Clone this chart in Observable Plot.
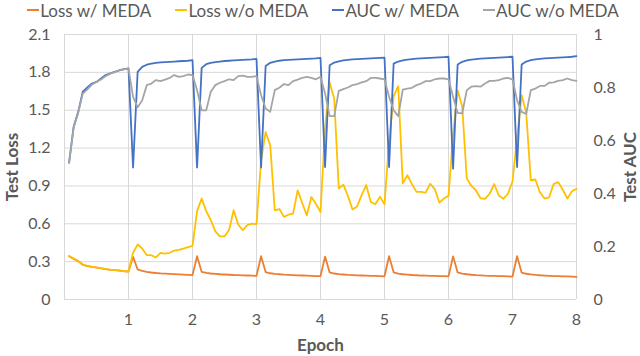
<!DOCTYPE html>
<html>
<head>
<meta charset="utf-8">
<script src="https://cdn.jsdelivr.net/npm/d3@7"></script>
<script src="https://cdn.jsdelivr.net/npm/@observablehq/plot@0.6"></script>
<style>
  html, body { margin: 0; padding: 0; background: #fff; }
  body { width: 640px; height: 356px; overflow: hidden; font-family: Lato, "Open Sans", sans-serif; }
  #legend { height: 20px; display: flex; justify-content: center; align-items: center; gap: 24px; font-size: 17px; color: #595959; padding-left: 6px; }
  #legend .item { display: flex; align-items: center; white-space: nowrap; }
  #legend .sw { display: inline-block; width: 12px; height: 2px; margin-right: 1px; }
</style>
</head>
<body>
<div id="legend"></div>
<div id="chart"></div>
<script>
// ---- data ----
const stepsPerEpoch = 14;               // evaluation points per epoch
const epochTicks = [1, 2, 3, 4, 5, 6, 7, 8];
const epochGrid = [0, 1, 2, 3, 4, 5, 6, 7, 8];
const lossTicks = [0, 0.3, 0.6, 0.9, 1.2, 1.5, 1.8, 2.1];
const aucTicks = [0, 0.2, 0.4, 0.6, 0.8, 1];
const lossMax = 2.1;
const aucMax = 1;

const seriesNames = ["Loss w/ MEDA", "Loss w/o MEDA", "AUC w/ MEDA", "AUC w/o MEDA"];
const seriesAxis = ["loss", "loss", "auc", "auc"];
const seriesColors = ["#ED7D31", "#FFC000", "#4472C4", "#A5A5A5"];

const lossWithMeda = [
  0.343, 0.322, 0.304, 0.275, 0.264, 0.259, 0.253, 0.246, 0.240, 0.235, 0.232, 0.229, 0.224, 0.222,
  0.338, 0.238, 0.227, 0.219, 0.214, 0.210, 0.207, 0.205, 0.203, 0.201, 0.199, 0.197, 0.195, 0.193,
  0.343, 0.219, 0.211, 0.206, 0.203, 0.200, 0.198, 0.196, 0.194, 0.193, 0.191, 0.190, 0.189, 0.187,
  0.343, 0.217, 0.208, 0.203, 0.200, 0.197, 0.195, 0.193, 0.191, 0.190, 0.189, 0.188, 0.186, 0.185,
  0.340, 0.214, 0.206, 0.201, 0.198, 0.195, 0.193, 0.191, 0.190, 0.189, 0.188, 0.187, 0.186, 0.184,
  0.343, 0.215, 0.205, 0.200, 0.197, 0.194, 0.192, 0.190, 0.189, 0.188, 0.187, 0.186, 0.185, 0.183,
  0.342, 0.214, 0.205, 0.200, 0.196, 0.193, 0.191, 0.189, 0.188, 0.187, 0.186, 0.185, 0.183, 0.182,
  0.343, 0.213, 0.204, 0.199, 0.195, 0.192, 0.190, 0.188, 0.186, 0.185, 0.184, 0.183, 0.181, 0.179
];
const lossWithoutMeda = [
  0.345, 0.325, 0.305, 0.277, 0.266, 0.260, 0.255, 0.248, 0.242, 0.237, 0.233, 0.230, 0.226, 0.224,
  0.370, 0.436, 0.404, 0.351, 0.351, 0.333, 0.370, 0.364, 0.370, 0.388, 0.393, 0.404, 0.415, 0.425,
  0.700, 0.800, 0.700, 0.630, 0.540, 0.500, 0.500, 0.550, 0.707, 0.594, 0.549, 0.590, 0.602, 0.597,
  1.100, 1.328, 1.223, 0.707, 0.717, 0.655, 0.672, 0.680, 0.865, 0.765, 0.667, 0.812, 0.758, 0.693,
  1.350, 1.720, 1.590, 0.880, 0.910, 0.820, 0.714, 0.737, 0.827, 0.907, 0.773, 0.755, 0.815, 0.755,
  1.250, 1.610, 1.690, 0.920, 0.985, 0.914, 0.853, 0.853, 0.847, 0.917, 0.875, 0.768, 0.800, 0.821,
  1.300, 1.656, 1.530, 0.960, 0.900, 0.866, 0.802, 0.798, 0.838, 0.915, 0.824, 0.798, 0.838, 0.935,
  1.280, 1.620, 1.480, 0.945, 0.951, 0.850, 0.800, 0.810, 0.914, 0.930, 0.870, 0.800, 0.858, 0.877
];
const aucWithMeda = [
  0.516, 0.652, 0.708, 0.784, 0.800, 0.815, 0.821, 0.834, 0.847, 0.853, 0.859, 0.865, 0.869, 0.872,
  0.498, 0.859, 0.878, 0.886, 0.890, 0.893, 0.895, 0.896, 0.897, 0.898, 0.899, 0.900, 0.901, 0.903,
  0.498, 0.874, 0.888, 0.893, 0.896, 0.898, 0.900, 0.901, 0.902, 0.903, 0.904, 0.905, 0.906, 0.908,
  0.498, 0.881, 0.893, 0.898, 0.901, 0.903, 0.904, 0.905, 0.906, 0.907, 0.908, 0.909, 0.910, 0.912,
  0.500, 0.884, 0.894, 0.899, 0.902, 0.904, 0.906, 0.907, 0.908, 0.909, 0.910, 0.911, 0.912, 0.913,
  0.500, 0.890, 0.898, 0.902, 0.905, 0.907, 0.909, 0.910, 0.911, 0.912, 0.913, 0.914, 0.915, 0.916,
  0.494, 0.887, 0.897, 0.902, 0.905, 0.907, 0.909, 0.910, 0.911, 0.912, 0.913, 0.914, 0.915, 0.916,
  0.500, 0.887, 0.898, 0.903, 0.906, 0.908, 0.910, 0.911, 0.912, 0.913, 0.914, 0.915, 0.916, 0.918
];
const aucWithoutMeda = [
  0.516, 0.648, 0.705, 0.777, 0.793, 0.811, 0.821, 0.830, 0.843, 0.852, 0.858, 0.866, 0.868, 0.871,
  0.765, 0.725, 0.752, 0.809, 0.815, 0.828, 0.824, 0.830, 0.836, 0.847, 0.840, 0.843, 0.849, 0.847,
  0.790, 0.714, 0.714, 0.784, 0.809, 0.818, 0.824, 0.831, 0.828, 0.843, 0.845, 0.840, 0.840, 0.843,
  0.771, 0.721, 0.708, 0.790, 0.799, 0.813, 0.809, 0.824, 0.830, 0.836, 0.840, 0.836, 0.831, 0.840,
  0.777, 0.692, 0.692, 0.787, 0.794, 0.800, 0.809, 0.813, 0.819, 0.824, 0.836, 0.836, 0.834, 0.831,
  0.765, 0.714, 0.692, 0.792, 0.796, 0.799, 0.809, 0.815, 0.824, 0.824, 0.831, 0.834, 0.834, 0.831,
  0.765, 0.704, 0.702, 0.790, 0.803, 0.805, 0.803, 0.815, 0.825, 0.825, 0.828, 0.834, 0.836, 0.831,
  0.752, 0.708, 0.700, 0.790, 0.796, 0.806, 0.806, 0.818, 0.819, 0.825, 0.828, 0.834, 0.828, 0.825
];
const seriesValues = [lossWithMeda, lossWithoutMeda, aucWithMeda, aucWithoutMeda];

// ---- build table ----
const factor = lossMax / aucMax; // AUC drawn on the loss scale
const rows = [];
seriesNames.forEach((name, s) => {
  seriesValues[s].forEach((v, i) => {
    rows.push({series: name, step: (i + 1) / stepsPerEpoch, value: v, axis: seriesAxis[s]});
  });
});
const fmt = v => String(+v.toFixed(1));

// ---- legend ----
const legend = document.getElementById("legend");
seriesNames.forEach((name, i) => {
  const item = document.createElement("span");
  item.className = "item";
  const sw = document.createElement("span");
  sw.className = "sw";
  sw.style.background = seriesColors[i];
  item.appendChild(sw);
  item.appendChild(document.createTextNode(name));
  legend.appendChild(item);
});

// ---- chart ----
const chart = Plot.plot({
  width: 640,
  height: 336,
  marginTop: 14,
  marginBottom: 57,
  marginLeft: 64,
  marginRight: 64,
  style: {fontFamily: "Lato, 'Open Sans', sans-serif", fontSize: "16px", color: "#595959", background: "#fff"},
  x: {domain: [0, 8]},
  y: {domain: [0, lossMax]},
  color: {domain: seriesNames, range: seriesColors},
  marks: [
    Plot.gridX(epochGrid, {stroke: "#D9D9D9", strokeOpacity: 1, strokeWidth: 1}),
    Plot.gridY(lossTicks, {stroke: "#D9D9D9", strokeOpacity: 1, strokeWidth: 1}),
    Plot.axisX(epochTicks, {tickSize: 0, tickPadding: 14, label: null, tickFormat: d => String(d)}),
    Plot.axisY(lossTicks, {tickSize: 0, tickPadding: 14, label: null, tickFormat: fmt}),
    Plot.axisY(aucTicks.map(v => v * factor), {anchor: "right", tickSize: 0, tickPadding: 17, label: null, tickFormat: d => fmt(d / factor)}),
    Plot.line(rows, {
      x: "step",
      y: d => d.axis === "auc" ? d.value * factor : d.value,
      z: "series",
      stroke: "series",
      strokeWidth: 1.8,
      strokeLinejoin: "round"
    }),
    Plot.text(["Test Loss"], {text: d => d, frameAnchor: "left", textAnchor: "middle", dx: -52, rotate: -90, fontWeight: "bold", fontSize: 17, fill: "#595959"}),
    Plot.text(["Test AUC"], {text: d => d, frameAnchor: "right", textAnchor: "middle", dx: 54, rotate: -90, fontWeight: "bold", fontSize: 17, fill: "#595959"}),
    Plot.text(["Epoch"], {text: d => d, frameAnchor: "bottom", dy: 51, fontWeight: "bold", fontSize: 17, fill: "#595959"})
  ]
});
document.getElementById("chart").appendChild(chart);
</script>
</body>
</html>
